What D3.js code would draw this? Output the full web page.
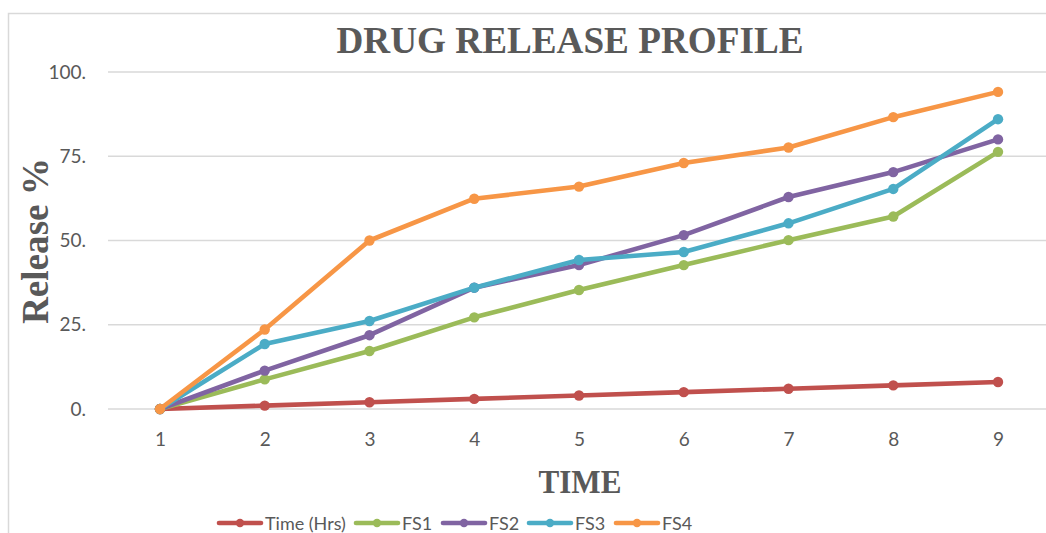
<!DOCTYPE html>
<html>
<head>
<meta charset="utf-8">
<script src="https://cdn.jsdelivr.net/npm/d3@7"></script>
<style>
  html, body { margin: 0; padding: 0; background: #fff; }
  svg { display: block; }
</style>
</head>
<body>
<script>
// Drug release data: hours on the x axis, cumulative release % per formulation
const hours = ["1", "2", "3", "4", "5", "6", "7", "8", "9"];
const timeHrs = [0, 1, 2, 3, 4, 5, 6, 7, 8];
const fs1 = [0, 8.8, 17.2, 27.2, 35.3, 42.7, 50.1, 57.1, 76.3];
const fs2 = [0, 11.4, 21.9, 36.0, 42.7, 51.6, 62.9, 70.3, 80.0];
const fs3 = [0, 19.3, 26.1, 36.0, 44.2, 46.6, 55.1, 65.3, 86.0];
const fs4 = [0, 23.6, 50.0, 62.4, 66.0, 73.0, 77.6, 86.6, 94.1];
const yTicks = [0, 25, 50, 75, 100];
const yTickLabels = ["0.", "25.", "50.", "75.", "100."];
const seriesNames = ["Time (Hrs)", "FS1", "FS2", "FS3", "FS4"];
const seriesColors = ["#C0504D", "#9BBB59", "#8064A2", "#4BACC6", "#F79646"];

const series = [timeHrs, fs1, fs2, fs3, fs4].map((vals, i) => ({
  name: seriesNames[i], color: seriesColors[i], values: vals
}));

const W = 1046, H = 533;
const svg = d3.select("body").append("svg").attr("width", W).attr("height", H);

// Chart frame
svg.append("path")
  .attr("d", `M8.5,${H + 5} V13.5 H${W + 5}`)
  .attr("fill", "none").attr("stroke", "#d9d9d9").attr("stroke-width", 1.5);

const x = d3.scalePoint().domain(hours).range([107.6, 1050.4]).padding(0.5);
const y = d3.scaleLinear().domain([0, 100]).range([409, 72]);

// Horizontal gridlines
svg.append("g").selectAll("line").data(yTicks).join("line")
  .attr("x1", 108).attr("x2", W + 5)
  .attr("y1", d => y(d)).attr("y2", d => y(d))
  .attr("stroke", "#d9d9d9").attr("stroke-width", 1.5);

// Y axis labels
const yAxis = d3.axisLeft(y).tickValues(yTicks)
  .tickFormat((d, i) => yTickLabels[i]).tickSize(0).tickPadding(0);
const gy = svg.append("g").attr("transform", "translate(86,0)").call(yAxis);
gy.select(".domain").remove();
gy.selectAll("text").attr("font-family", "Lato, 'Open Sans', sans-serif")
  .attr("font-size", 19).attr("fill", "#595959");

// X axis labels
const xAxis = d3.axisBottom(x).tickSize(0).tickPadding(0);
const gx = svg.append("g").attr("transform", "translate(0,432)").call(xAxis);
gx.select(".domain").remove();
gx.selectAll("text").attr("font-family", "Lato, 'Open Sans', sans-serif")
  .attr("font-size", 19).attr("fill", "#595959");

// Lines and markers
const line = d3.line().x((d, i) => x(hours[i])).y(d => y(d));
const sg = svg.append("g").selectAll("g").data(series).join("g");
sg.append("path")
  .attr("d", d => line(d.values))
  .attr("fill", "none").attr("stroke", d => d.color)
  .attr("stroke-width", 4.6).attr("stroke-linejoin", "round").attr("stroke-linecap", "round");
sg.selectAll("circle").data(d => d.values.map((v, i) => ({ v, i, color: d.color }))).join("circle")
  .attr("cx", d => x(hours[d.i])).attr("cy", d => y(d.v)).attr("r", 5.2)
  .attr("fill", d => d.color);

// Titles
const serif = "'Liberation Serif', 'Times New Roman', serif";
svg.append("text").text("DRUG RELEASE PROFILE")
  .attr("x", 570).attr("y", 53).attr("text-anchor", "middle")
  .attr("font-family", serif).attr("font-weight", "bold").attr("font-size", 37)
  .attr("fill", "#595959").attr("textLength", 467).attr("lengthAdjust", "spacingAndGlyphs");

svg.append("text").text("Release %")
  .attr("transform", "translate(48,241) rotate(-90)").attr("text-anchor", "middle")
  .attr("font-family", serif).attr("font-weight", "bold").attr("font-size", 37)
  .attr("fill", "#595959").attr("textLength", 166).attr("lengthAdjust", "spacingAndGlyphs");

svg.append("text").text("TIME")
  .attr("x", 580).attr("y", 493).attr("text-anchor", "middle")
  .attr("font-family", serif).attr("font-weight", "bold").attr("font-size", 34)
  .attr("fill", "#595959").attr("textLength", 83).attr("lengthAdjust", "spacingAndGlyphs");

// Legend
const legendX = [219, 356, 443, 529, 616];
const lg = svg.append("g").selectAll("g").data(series).join("g")
  .attr("transform", (d, i) => `translate(${legendX[i]},523)`);
lg.append("line").attr("x1", 0).attr("x2", 42).attr("y1", 0).attr("y2", 0)
  .attr("stroke", d => d.color).attr("stroke-width", 4.6).attr("stroke-linecap", "round");
lg.append("circle").attr("cx", 21).attr("cy", 0).attr("r", 4.2).attr("fill", d => d.color);
lg.append("text").text(d => d.name)
  .attr("x", 46).attr("y", 7)
  .attr("font-family", "Lato, 'Open Sans', sans-serif").attr("font-size", 18)
  .attr("fill", "#595959");
</script>
</body>
</html>
